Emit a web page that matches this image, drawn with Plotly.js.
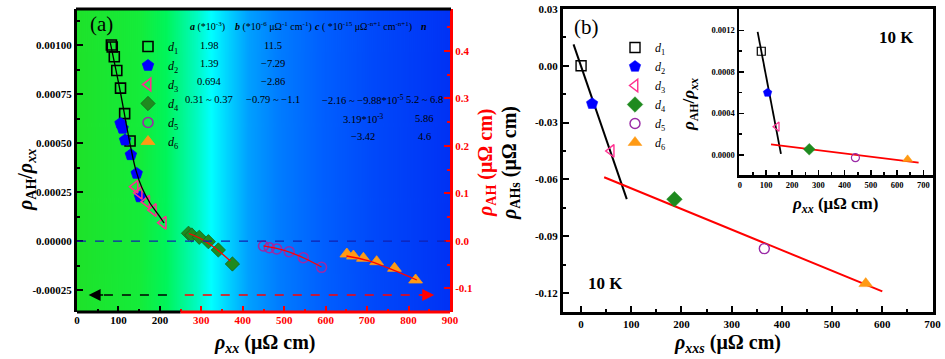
<!DOCTYPE html>
<html><head><meta charset="utf-8">
<script src="https://cdn.plot.ly/plotly-3.0.1.min.js"></script>
<style>html,body{margin:0;padding:0;background:#fff}#chart{width:945px;height:359px}</style>
</head><body><div id="chart"></div>
<script>
// ---------- data: panel (a) ----------
const seriesNames = ['<i>d</i><sub>1</sub>','<i>d</i><sub>2</sub>','<i>d</i><sub>3</sub>','<i>d</i><sub>4</sub>','<i>d</i><sub>5</sub>','<i>d</i><sub>6</sub>'];
const a_d1_x = [83, 85, 90, 96, 105, 115, 128];
const a_d1_y = [0.00100, 0.00099, 0.00094, 0.00087, 0.00078, 0.00065, 0.00051];
const a_d2_x = [105, 110, 116, 130, 144, 152];
const a_d2_y = [0.00060, 0.000575, 0.000515, 0.00044, 0.000345, 0.000225];
const a_d3_x = [140, 150, 168, 184, 208];
const a_d3_y = [0.000277, 0.000246, 0.000200, 0.000158, 0.000093];
const a_fitL_x = [80, 94, 106, 118, 130, 142, 157, 176, 195, 210];
const a_fitL_y = [0.001015, 0.000872, 0.000745, 0.000607, 0.000474, 0.000362, 0.00027, 0.000194, 0.000138, 0.000092];
// right axis (rho_AH, µΩ cm)
const a_d4_x = [269, 277, 295, 317, 341, 375];
const a_d4_y = [0.0162, 0.0126, 0.0078, -0.0015, -0.0189, -0.0484];
const a_d5_x = [450, 464, 482, 512, 546, 590];
const a_d5_y = [-0.0105, -0.0141, -0.0168, -0.0225, -0.0352, -0.0554];
const a_d6_x = [651, 667, 691, 723, 766, 817];
const a_d6_y = [-0.0274, -0.0316, -0.0364, -0.0436, -0.0575, -0.0821];
const a_fit4_x = [270, 300, 330, 370];
const a_fit4_y = [0.0158, 0.0042, -0.0126, -0.0421];
const a_fit5_x = [450, 500, 550, 590];
const a_fit5_y = [-0.0105, -0.020, -0.0368, -0.0547];
const a_fit6_x = [650, 700, 750, 820];
const a_fit6_y = [-0.0316, -0.041, -0.0568, -0.0821];
// ---------- data: panel (b) ----------
const b_x = [0, 22, 60, 186, 365, 567];
const b_y = [0.0, -0.020, -0.045, -0.0705, -0.0966, -0.1151];
const b_fitBlack_x = [-15, 91];
const b_fitBlack_y = [0.0113, -0.0705];
const b_fitRed_x = [46, 600];
const b_fitRed_y = [-0.0589, -0.1192];
// ---------- data: inset ----------
const i_x = [82, 106, 142, 265, 441, 640];
const i_y = [0.00100, 0.00060, 0.000273, 0.000055, -0.000026, -0.000042];
const i_fitBlack_x = [68, 157];
const i_fitBlack_y = [0.001186, 0.00001];
const i_fitRed_x = [119, 682];
const i_fitRed_y = [0.000103, -0.000074];
// ---------- table text ----------
const tableHeader = ['<b><i>a</i></b> (*10<sup>-3</sup>)', '<b><i>b</i></b> (*10<sup>-6</sup> μΩ<sup>-1</sup> cm<sup>-1</sup>)', '<b><i>c</i></b> ( *10<sup>-15</sup> μΩ<sup>-n+1</sup> cm<sup>-n+1</sup>)', '<b><i>n</i></b>'];
const tableA = ['1.98', '1.39', '0.694', '0.31 ~ 0.37', '', ''];
const tableB = ['11.5', '−7.29', '−2.86', '−0.79 ~ −1.1', '', ''];
const tableC = ['', '', '', '−2.16 ~ −9.88*10<sup>-5</sup>', '3.19*10<sup>-3</sup>', '−3.42'];
const tableN = ['', '', '', '5.2 ~ 6.8', '5.86', '4.6'];

// ---------- styles ----------
const W = 945, H = 359;
const px = x => x / W, py = y => 1 - y / H;
const FONT = 'Liberation Serif, Times New Roman, serif';
const symbols = ['square-open', 'pentagon', 'triangle-left-open', 'diamond', 'circle-open', 'triangle-up'];
const colors = ['#000000', '#0000ff', '#ff2f8f', '#1f8a1f', '#9a2aa6', '#ff9a14'];
const sizeA = [10, 12, 11, 11, 10, 12];
const sizeB = [10, 12, 11, 12, 10, 12];
const sizeI = [8, 9, 8, 9, 8, 9];

// gradient background for panel (a)
const cv = document.createElement('canvas'); cv.width = 373; cv.height = 4;
const ctx = cv.getContext('2d');
const g = ctx.createLinearGradient(0, 0, 373, 0);
[[0, 'rgb(30,226,42)'], [0.17, 'rgb(20,236,58)'], [0.24, 'rgb(0,245,90)'], [0.32, 'rgb(0,250,190)'],
 [0.36, 'rgb(0,255,255)'], [0.40, 'rgb(0,215,255)'], [0.46, 'rgb(0,160,255)'], [0.54, 'rgb(0,125,255)'],
 [0.66, 'rgb(0,95,255)'], [0.80, 'rgb(0,72,250)'], [1, 'rgb(0,50,245)']].forEach(s => g.addColorStop(s[0], s[1]));
ctx.fillStyle = g; ctx.fillRect(0, 0, 373, 4);
const bgURL = cv.toDataURL();

const aX = [a_d1_x, a_d2_x, a_d3_x, a_d4_x, a_d5_x, a_d6_x];
const aY = [a_d1_y, a_d2_y, a_d3_y, a_d4_y, a_d5_y, a_d6_y];
const traces = [];
for (let k = 0; k < 6; k++) {
  traces.push({
    type: 'scatter', mode: 'markers', x: aX[k], y: aY[k], name: seriesNames[k],
    xaxis: k < 3 ? 'x' : 'x5', yaxis: k < 3 ? 'y' : 'y2', legend: 'legend',
    marker: { symbol: symbols[k], color: colors[k], size: sizeA[k], line: { color: k===3 ? '#17651a' : colors[k], width: (k===0||k===2||k===4) ? 1.6 : 0.8 } }
  });
}
traces.push({ type:'scatter', mode:'lines', x:a_fitL_x, y:a_fitL_y, xaxis:'x', yaxis:'y', showlegend:false, line:{color:'#000', width:1.3, shape:'spline'} });
[[a_fit4_x,a_fit4_y],[a_fit5_x,a_fit5_y],[a_fit6_x,a_fit6_y]].forEach(f => traces.push({ type:'scatter', mode:'lines', x:f[0], y:f[1], xaxis:'x5', yaxis:'y2', showlegend:false, line:{color:'#ff0000', width:1.3, shape:'spline'} }));
// panel (b)
traces.push({ type:'scatter', mode:'lines', x:b_fitBlack_x, y:b_fitBlack_y, xaxis:'x3', yaxis:'y3', showlegend:false, line:{color:'#000', width:2} });
traces.push({ type:'scatter', mode:'lines', x:b_fitRed_x, y:b_fitRed_y, xaxis:'x3', yaxis:'y3', showlegend:false, line:{color:'#ff0000', width:2} });
for (let k = 0; k < 6; k++) {
  traces.push({
    type:'scatter', mode:'markers', x:[b_x[k]], y:[b_y[k]], name: seriesNames[k], xaxis:'x3', yaxis:'y3', legend:'legend2',
    marker:{ symbol: symbols[k], color: colors[k], size: sizeB[k], line:{color: colors[k], width: (k===0||k===2||k===4)?1.4:0.5} }
  });
}
// inset
traces.push({ type:'scatter', mode:'lines', x:i_fitBlack_x, y:i_fitBlack_y, xaxis:'x4', yaxis:'y4', showlegend:false, line:{color:'#000', width:1.8} });
traces.push({ type:'scatter', mode:'lines', x:i_fitRed_x, y:i_fitRed_y, xaxis:'x4', yaxis:'y4', showlegend:false, line:{color:'#ff0000', width:1.8} });
for (let k = 0; k < 6; k++) {
  traces.push({
    type:'scatter', mode:'markers', x:[i_x[k]], y:[i_y[k]], xaxis:'x4', yaxis:'y4', showlegend:false,
    marker:{ symbol: symbols[k], color: colors[k], size: sizeI[k], line:{color: colors[k], width:(k===0||k===2||k===4)?1.2:0.5} }
  });
}

const tickFont = (c, s) => ({ family: FONT, size: s || 11, color: c || '#000', weight: 'bold' });
const range = (a, b, s) => { const r = []; for (let v = a; v <= b + 1e-9; v += s) r.push(+v.toFixed(6)); return r; };
const yDom = [py(312), py(9)];

const layout = {
  width: W, height: H, margin: {l:0, r:0, t:0, b:0},
  paper_bgcolor: '#ffffff', plot_bgcolor: 'rgba(0,0,0,0)', font: {family: FONT, color:'#000'},
  xaxis: { domain:[px(77), px(450)], range:[0, 900], anchor:'y', showline:false, zeroline:false, showgrid:false,
    tickmode:'array', tickvals:[0,100,200], ticktext:['0','100','200'], ticks:'inside', ticklen:6, tickwidth:2, tickcolor:'#000',
    tickfont: tickFont('#000'), minor:{tickvals:[50,150], ticks:'inside', ticklen:3, tickwidth:2, tickcolor:'#000', showgrid:false} },
  xaxis5: { overlaying:'x', anchor:'y2', side:'bottom', range:[0, 900], showline:false, zeroline:false, showgrid:false,
    tickmode:'array', tickvals:range(300,900,100), ticktext:range(300,900,100).map(String), ticks:'inside', ticklen:6, tickwidth:2, tickcolor:'#ff0000',
    tickfont: tickFont('#ff0000'), minor:{tickvals:range(250,850,100), ticks:'inside', ticklen:3, tickwidth:2, tickcolor:'#ff0000', showgrid:false} },
  yaxis: { domain:yDom, range:[-0.000362, 0.0011837], anchor:'x', showline:true, linecolor:'#000', linewidth:3, zeroline:false, showgrid:false,
    tickmode:'array', tickvals:[-0.00025,0,0.00025,0.0005,0.00075,0.001], ticktext:['-0.00025','0.00000','0.00025','0.00050','0.00075','0.00100'],
    ticks:'inside', ticklen:6, tickwidth:2, tickcolor:'#000', tickfont: tickFont('#000'),
    minor:{tickvals:[-0.000125,0.000125,0.000375,0.000625,0.000875,0.001125], ticks:'inside', ticklen:3, tickwidth:2, tickcolor:'#000', showgrid:false} },
  yaxis2: { overlaying:'y', side:'right', anchor:'x5', range:[-0.1495, 0.4884], showline:true, linecolor:'#ff0000', linewidth:3, zeroline:false, showgrid:false,
    tickmode:'array', tickvals:[-0.1,0,0.1,0.2,0.3,0.4], ticktext:['-0.1','0.0','0.1','0.2','0.3','0.4'],
    ticks:'inside', ticklen:6, tickwidth:2, tickcolor:'#ff0000', tickfont: tickFont('#ff0000'),
    minor:{tickvals:[-0.05,0.05,0.15,0.25,0.35,0.45], ticks:'inside', ticklen:3, tickwidth:2, tickcolor:'#ff0000', showgrid:false} },
  xaxis3: { domain:[px(563), px(932.5)], range:[-36, 700], anchor:'y3', showline:true, mirror:true, linecolor:'#000', linewidth:3, zeroline:false, showgrid:false,
    tickmode:'array', tickvals:range(0,700,100), ticktext:range(0,700,100).map(String), ticks:'inside', ticklen:6, tickwidth:2, tickcolor:'#000',
    tickfont: tickFont('#000'), minor:{tickvals:range(50,650,100), ticks:'inside', ticklen:3, tickwidth:2, tickcolor:'#000', showgrid:false} },
  yaxis3: { domain:yDom, range:[-0.1301, 0.0300], anchor:'x3', showline:true, mirror:true, linecolor:'#000', linewidth:3, zeroline:false, showgrid:false,
    tickmode:'array', tickvals:[-0.12,-0.09,-0.06,-0.03,0,0.03], ticktext:['-0.12','-0.09','-0.06','-0.03','0.00','0.03'],
    ticks:'inside', ticklen:6, tickwidth:2, tickcolor:'#000', tickfont: tickFont('#000'),
    minor:{tickvals:[-0.105,-0.075,-0.045,-0.015,0.015], ticks:'inside', ticklen:3, tickwidth:2, tickcolor:'#000', showgrid:false} },
  xaxis4: { domain:[px(739), px(932.5)], range:[-3, 735], anchor:'y4', showline:true, mirror:true, linecolor:'#000', linewidth:2.5, zeroline:false, showgrid:false,
    tickmode:'array', tickvals:range(0,700,100), ticktext:range(0,700,100).map(String), ticks:'inside', ticklen:5, tickwidth:1.5, tickcolor:'#000',
    tickfont: tickFont('#000', 8.5), minor:{tickvals:range(50,650,100), ticks:'inside', ticklen:3, tickwidth:1.5, tickcolor:'#000', showgrid:false} },
  yaxis4: { domain:[py(175), py(9)], range:[-0.000193, 0.001407], anchor:'x4', showline:true, mirror:true, linecolor:'#000', linewidth:2.5, zeroline:false, showgrid:false,
    tickmode:'array', tickvals:[0,0.0004,0.0008,0.0012], ticktext:['0.0000','0.0004','0.0008','0.0012'],
    ticks:'inside', ticklen:5, tickwidth:1.5, tickcolor:'#000', tickfont: tickFont('#000', 8.5),
    minor:{tickvals:[0.0002,0.0006,0.001], ticks:'inside', ticklen:3, tickwidth:1.5, tickcolor:'#000', showgrid:false} },
  legend: { x: px(128), y: py(32), xanchor:'left', yanchor:'top', bgcolor:'rgba(0,0,0,0)', borderwidth:0, tracegroupgap:0, font:{family:FONT, size:12, color:'#000'} },
  legend2: { x: px(615), y: py(33), xanchor:'left', yanchor:'top', bgcolor:'rgba(0,0,0,0)', borderwidth:0, tracegroupgap:0, font:{family:FONT, size:12, color:'#000'} },
  images: [{ source: bgURL, xref:'paper', yref:'paper', x: px(77), y: py(9), sizex: px(450)-px(77), sizey: py(9)-py(312), sizing:'stretch', xanchor:'left', yanchor:'top', layer:'below' }],
  shapes: [
    { type:'line', xref:'paper', yref:'paper', x0:px(76), x1:px(451), y0:py(9), y1:py(9), line:{color:'#000', width:3} },
    { type:'line', xref:'x', yref:'paper', x0:-2, x1:250, y0:py(312), y1:py(312), line:{color:'#000', width:3} },
    { type:'line', xref:'x', yref:'paper', x0:250, x1:902, y0:py(312), y1:py(312), line:{color:'#ff0000', width:3} },
    { type:'line', xref:'x', yref:'y', x0:0, x1:900, y0:0, y1:0, line:{color:'#1020b0', width:1.3, dash:'dash'} },
    { type:'line', xref:'x', yref:'y', x0:217, x1:40, y0:-0.0002755, y1:-0.0002755, line:{color:'#000', width:1.5, dash:'dash'} },
    { type:'line', xref:'x', yref:'y', x0:260, x1:848, y0:-0.0002755, y1:-0.0002755, line:{color:'#ff0000', width:1.5, dash:'dash'} }
  ],
  annotations: []
};
const ann = layout.annotations;
const A = (x, y, text, o) => ann.push(Object.assign({ xref:'paper', yref:'paper', x: px(x), y: py(y), text, showarrow:false, xanchor:'center', yanchor:'middle', font:{family:FONT, size:11, color:'#000'} }, o || {}));
// arrowheads
ann.push({ xref:'x', yref:'y', x:28, y:-0.0002755, ax:16, ay:0, text:'', showarrow:true, arrowhead:2, arrowsize:1.6, arrowwidth:1.5, arrowcolor:'#000' });
ann.push({ xref:'x', yref:'y', x:862, y:-0.0002755, ax:-16, ay:0, text:'', showarrow:true, arrowhead:2, arrowsize:1.6, arrowwidth:1.5, arrowcolor:'#ff0000' });
// panel labels
A(101, 24, '(a)', {font:{family:FONT, size:21, color:'#000'}});
A(586, 27, '(b)', {font:{family:FONT, size:21, color:'#000'}});
A(605, 283, '<b>10 K</b>', {font:{family:FONT, size:17, color:'#000'}});
A(896, 37, '<b>10 K</b>', {font:{family:FONT, size:17, color:'#000'}});
// table
const colX = [209, 273, 363, 424];
const rowY = [45, 63.3, 81.7, 99.3, 118.3, 136.7];
tableHeader.forEach((t, j) => A(colX[j] - (j===0?2:0), 27, t, {font:{family:FONT, size:10, color:'#000'}}));
[tableA, tableB, tableC, tableN].forEach((col, j) => col.forEach((t, r) => { if (t) A(colX[j], rowY[r], t, {font:{family:FONT, size:10.5, color:'#000'}}); }));
// axis titles
const tf = (s, c) => ({family:FONT, size:s, color:c || '#000'});
A(265, 343, '<b><i>ρ</i><sub><i>xx</i></sub> (μΩ cm)</b>', {font:tf(20)});
A(26, 180, '<b><i>ρ</i><sub>AH</sub>/<i>ρ</i><sub><i>xx</i></sub></b>', {font:tf(20), textangle:-90});
A(486, 162, '<b><i>ρ</i><sub>AH</sub> (μΩ cm)</b>', {font:tf(20, '#ff0000'), textangle:-90});
A(510, 163, '<b><i>ρ</i><sub>AHs</sub> (μΩ cm)</b>', {font:tf(20), textangle:-90});
A(727, 343, '<b><i>ρ</i><sub><i>xxs</i></sub> (μΩ cm)</b>', {font:tf(20)});
A(835, 205, '<b><i>ρ</i><sub><i>xx</i></sub> (μΩ cm)</b>', {font:tf(17)});
A(690, 105, '<b><i>ρ</i><sub>AH</sub>/<i>ρ</i><sub><i>xx</i></sub></b>', {font:tf(17), textangle:-90});

Plotly.newPlot('chart', traces, layout, {staticPlot:true, displayModeBar:false});
</script></body></html>
